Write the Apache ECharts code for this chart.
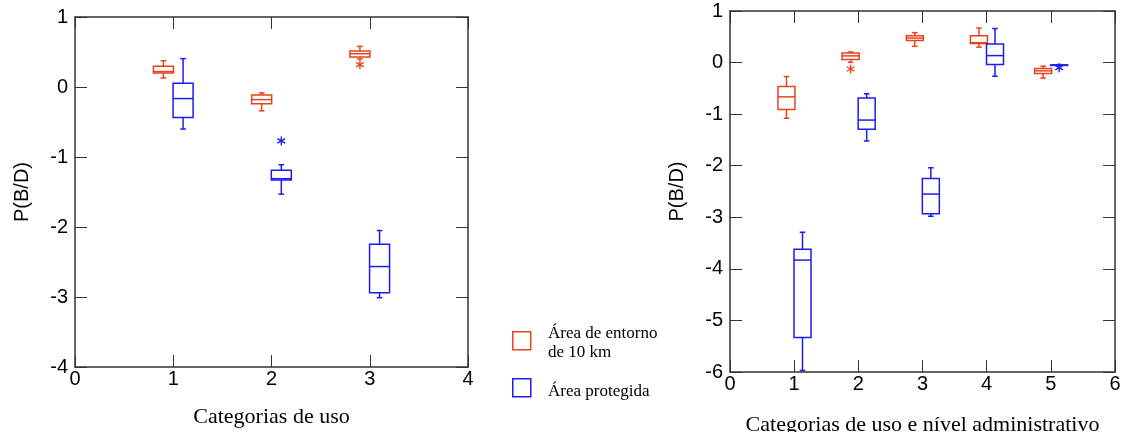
<!DOCTYPE html>
<html>
<head>
<meta charset="utf-8">
<script src="https://cdn.jsdelivr.net/npm/echarts@6/dist/echarts.min.js"></script>
<style>html,body{margin:0;padding:0;background:#fff}#c{width:1123px;height:432px}</style>
</head>
<body>
<div id="c"></div>
<script>
// ---- data: [category, min, q1, median, q3, max] ----
const leftRed = [
  [1, 0.13, 0.20, 0.22, 0.295, 0.375],
  [2, -0.34, -0.24, -0.18, -0.115, -0.085],
  [3, 0.40, 0.43, 0.475, 0.515, 0.58]
];
const leftBlue = [
  [1, -0.60, -0.435, -0.165, 0.055, 0.405],
  [2, -1.53, -1.33, -1.31, -1.19, -1.11],
  [3, -3.01, -2.94, -2.565, -2.245, -2.05]
];
const leftRedOutliers = [[3, 0.32]];
const leftBlueOutliers = [[2, -0.77]];

const rightRed = [
  [1, -1.08, -0.91, -0.665, -0.465, -0.27],
  [2, 0.005, 0.06, 0.13, 0.185, 0.205],
  [3, 0.315, 0.43, 0.475, 0.52, 0.58],
  [4, 0.30, 0.37, 0.385, 0.52, 0.67],
  [5, -0.30, -0.21, -0.16, -0.115, -0.07]
];
const rightBlue = [
  [1, -5.97, -5.33, -3.83, -3.62, -3.29],
  [2, -1.52, -1.295, -1.115, -0.685, -0.605],
  [3, -2.98, -2.93, -2.55, -2.25, -2.04],
  [4, -0.265, -0.035, 0.135, 0.36, 0.66],
  [5, -0.06, -0.055, -0.05, -0.045, -0.04]
];
const rightRedOutliers = [[2, -0.125]];
const rightBlueOutliers = [[5, -0.10]];

const leftYTicks = [-4, 1];
const rightYTicks = [-6, 1];
const leftXRange = [0, 4];
const rightXRange = [0, 6];

const legendLabels = ['Área de entorno\nde 10 km', 'Área protegida'];
const leftXName = 'Categorias de uso';
const rightXName = 'Categorias de uso e nível administrativo';
const yName = 'P(B/D)';

// ---- styles ----
const RED = '#e8421e';
const BLUE = '#1c1cf2';
const AXIS = '#333';
const SANS = 'Liberation Sans, Arial, sans-serif';
const SERIF = 'Liberation Serif, Times New Roman, serif';

function boxRender(offset, halfW) {
  return function (params, api) {
    const x = api.value(0) + offset;
    const color = api.visual('color');
    const pMin = api.coord([x, api.value(1)]);
    const pQ1 = api.coord([x, api.value(2)]);
    const pMed = api.coord([x, api.value(3)]);
    const pQ3 = api.coord([x, api.value(4)]);
    const pMax = api.coord([x, api.value(5)]);
    const cx = pMed[0];
    const st = { stroke: color, lineWidth: 1.5, fill: null };
    const cap = 2.8;
    return {
      type: 'group',
      children: [
        { type: 'line', shape: { x1: cx, y1: pMax[1], x2: cx, y2: pQ3[1] }, style: st },
        { type: 'line', shape: { x1: cx, y1: pQ1[1], x2: cx, y2: pMin[1] }, style: st },
        { type: 'line', shape: { x1: cx - cap, y1: pMax[1], x2: cx + cap, y2: pMax[1] }, style: st },
        { type: 'line', shape: { x1: cx - cap, y1: pMin[1], x2: cx + cap, y2: pMin[1] }, style: st },
        { type: 'rect', shape: { x: cx - halfW, y: pQ3[1], width: 2 * halfW, height: Math.max(pQ1[1] - pQ3[1], 0.5) }, style: { stroke: color, lineWidth: 1.5, fill: '#fff' } },
        { type: 'line', shape: { x1: cx - halfW, y1: pMed[1], x2: cx + halfW, y2: pMed[1] }, style: st }
      ]
    };
  };
}
function starRender(offset) {
  return function (params, api) {
    const p = api.coord([api.value(0) + offset, api.value(1)]);
    const color = api.visual('color');
    const r = 4.5;
    const st = { stroke: color, lineWidth: 1.4 };
    const dx = r * Math.cos(Math.PI / 6), dy = r * Math.sin(Math.PI / 6);
    return {
      type: 'group',
      children: [
        { type: 'line', shape: { x1: p[0], y1: p[1] - r, x2: p[0], y2: p[1] + r }, style: st },
        { type: 'line', shape: { x1: p[0] - dx, y1: p[1] - dy, x2: p[0] + dx, y2: p[1] + dy }, style: st },
        { type: 'line', shape: { x1: p[0] - dx, y1: p[1] + dy, x2: p[0] + dx, y2: p[1] - dy }, style: st }
      ]
    };
  };
}

const axisLine = { show: true, onZero: false, lineStyle: { color: AXIS, width: 1.5 } };
const tick = { show: true, inside: true, length: 12, lineStyle: { color: AXIS, width: 1 } };
const lbl = { fontFamily: SANS, fontSize: 20, color: '#000' };

function xAx(grid, range, name, top, gap) {
  return {
    type: 'value', gridIndex: grid, min: range[0], max: range[1], interval: 1,
    position: top ? 'top' : 'bottom',
    axisLine: axisLine, axisTick: tick, splitLine: { show: false },
    axisLabel: top ? { show: false } : Object.assign({ margin: 2 }, lbl),
    name: top ? '' : name, nameLocation: 'middle', nameGap: gap || 44,
    nameTextStyle: { fontFamily: SERIF, fontSize: 22, color: '#000' }
  };
}
function yAx(grid, range, right) {
  return {
    type: 'value', gridIndex: grid, min: range[0], max: range[1], interval: 1,
    position: right ? 'right' : 'left',
    axisLine: axisLine, axisTick: tick, splitLine: { show: false },
    axisLabel: right ? { show: false } : Object.assign({ margin: 7 }, lbl),
    name: right ? '' : yName, nameLocation: 'middle', nameGap: 43,
    nameTextStyle: { fontFamily: SANS, fontSize: 20, color: '#000' }
  };
}

const chart = echarts.init(document.getElementById('c'), null, { renderer: 'canvas' });

function boxSeries(xi, yi, data, color, offset, halfW) {
  return { type: 'custom', xAxisIndex: xi, yAxisIndex: yi, data: data, itemStyle: { color: color },
    encode: { x: 0, y: [1, 2, 3, 4, 5] }, renderItem: boxRender(offset, halfW), silent: true, clip: false };
}
function starSeries(xi, yi, data, color, offset) {
  return { type: 'custom', xAxisIndex: xi, yAxisIndex: yi, data: data, itemStyle: { color: color },
    encode: { x: 0, y: 1 }, renderItem: starRender(offset), silent: true, clip: false };
}

chart.setOption({
  animation: false,
  backgroundColor: '#fff',
  grid: [
    { left: 75, top: 17, width: 393, height: 350, containLabel: false, outerBoundsMode: 'none' },
    { left: 730, top: 11, width: 385, height: 361, containLabel: false, outerBoundsMode: 'none' }
  ],
  xAxis: [
    xAx(0, leftXRange, leftXName, false, 39),
    xAx(0, leftXRange, '', true),
    xAx(1, rightXRange, rightXName, false, 42),
    xAx(1, rightXRange, '', true)
  ],
  yAxis: [
    yAx(0, leftYTicks, false),
    yAx(0, leftYTicks, true),
    yAx(1, rightYTicks, false),
    yAx(1, rightYTicks, true)
  ],
  series: [
    boxSeries(0, 0, leftRed, RED, -0.1, 10),
    boxSeries(0, 0, leftBlue, BLUE, 0.1, 10),
    starSeries(0, 0, leftRedOutliers, RED, -0.1),
    starSeries(0, 0, leftBlueOutliers, BLUE, 0.1),
    boxSeries(2, 2, rightRed, RED, -0.12, 8.5),
    boxSeries(2, 2, rightBlue, BLUE, 0.13, 8.5),
    starSeries(2, 2, rightRedOutliers, RED, -0.12),
    starSeries(2, 2, rightBlueOutliers, BLUE, 0.13)
  ],
  graphic: [
    { type: 'rect', left: 512, top: 331, shape: { width: 18, height: 18 }, style: { stroke: RED, lineWidth: 1.5, fill: '#fff' } },
    { type: 'text', left: 548, top: 324, style: { text: legendLabels[0], font: '17px ' + SERIF, fill: '#000', lineHeight: 19 } },
    { type: 'rect', left: 512, top: 378, shape: { width: 18, height: 18 }, style: { stroke: BLUE, lineWidth: 1.5, fill: '#fff' } },
    { type: 'text', left: 548, top: 383, style: { text: legendLabels[1], font: '17px ' + SERIF, fill: '#000' } }
  ]
});
</script>
</body>
</html>
